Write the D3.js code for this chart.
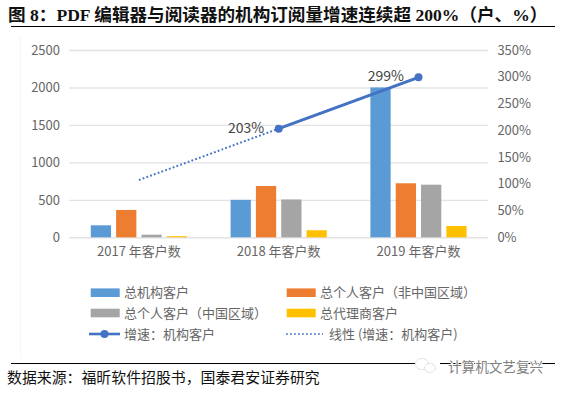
<!DOCTYPE html>
<html><head><meta charset="utf-8">
<script src="https://cdn.jsdelivr.net/npm/d3@7/dist/d3.min.js"></script>
<style>html,body{margin:0;padding:0;background:#fff}svg{display:block}</style>
</head><body><svg id="c" width="561" height="393"></svg>
<script>
const categories = ["2017 年客户数","2018 年客户数","2019 年客户数"];
const seriesNames = ["总机构客户","总个人客户（非中国区域）","总个人客户（中国区域）","总代理商客户"];
const institutional = [160,500,2000];
const personalIntl = [365,685,721];
const personalCN = [35,505,702];
const agents = [15,94,151];
const growth = [null,203,299];
const trend = [107,203,299];
const leftTicks = [0,500,1000,1500,2000,2500];
const rightTicks = [0,50,100,150,200,250,300,350];
const colors = ["#5b9bd5","#ed7d31","#a5a5a5","#ffc000"];
const lineColor = "#4472c4";
const SANS = "'Noto Sans CJK SC','Noto Sans',sans-serif";
const SERIF = "'Liberation Serif','Noto Sans CJK SC',serif";

const svg = d3.select("#c");
const x0 = d3.scaleBand().domain(categories).range([69,488.4]).padding(0);
const x1 = d3.scaleBand().domain(seriesNames).range([-48.1,48.1]).paddingInner(0.2).paddingOuter(0);
const yL = d3.scaleLinear().domain([0,2500]).range([237.3,50]);
const yR = d3.scaleLinear().domain([0,350]).range([237.3,50]);
const cx = c => x0(c)+x0.bandwidth()/2;

// title
svg.append("text").attr("x",8).attr("y",21).attr("font-family",SERIF).attr("font-weight",700).attr("font-size",17.6).attr("fill","#111")
  .text("图 8：PDF 编辑器与阅读器的机构订阅量增速连续超 200%（户、%）");
svg.append("line").attr("x1",11).attr("x2",555).attr("y1",26.5).attr("y2",26.5).attr("stroke","#000").attr("stroke-width",1);

// faint chart frame edge
svg.append("line").attr("x1",20.5).attr("x2",20.5).attr("y1",35).attr("y2",358).attr("stroke","#f6f6f6").attr("stroke-width",1);

// grid + left axis
const gL = svg.append("g").attr("transform","translate(69,0)")
  .call(d3.axisLeft(yL).tickValues(leftTicks).tickSize(-419.4).tickPadding(9).tickFormat(d3.format("d")));
gL.select(".domain").remove();
gL.selectAll(".tick line").attr("stroke","#e3e3e3").attr("stroke-width",1.4);
gL.selectAll("text").attr("font-family",SANS).attr("font-size",13).attr("fill","#666");

// right axis
const gR = svg.append("g").attr("transform","translate(488.4,0)")
  .call(d3.axisRight(yR).tickValues(rightTicks).tickSize(0).tickPadding(9).tickFormat(d=>d+"%"));
gR.select(".domain").remove();
gR.selectAll("text").attr("font-family",SANS).attr("font-size",13).attr("fill","#666");

// category axis
const gB = svg.append("g").attr("transform","translate(0,237.3)")
  .call(d3.axisBottom(x0).tickSize(0).tickPadding(9));
gB.select(".domain").remove();
gB.selectAll("text").attr("font-family",SANS).attr("font-size",13).attr("fill","#666");

// bars
[institutional,personalIntl,personalCN,agents].forEach((vals,i)=>{
  svg.append("g").selectAll("rect").data(vals).join("rect")
    .attr("x",(d,j)=>cx(categories[j])+x1(seriesNames[i]))
    .attr("width",x1.bandwidth())
    .attr("y",d=>yL(d)).attr("height",d=>yL(0)-yL(d))
    .attr("fill",colors[i]);
});

// trend + growth
const pts = (vals)=>vals.map((v,j)=>({x:cx(categories[j]),v})).filter(d=>d.v!=null);
const ln = d3.line().x(d=>d.x).y(d=>yR(d.v));
svg.append("path").attr("d",ln(pts(trend))).attr("fill","none").attr("stroke",lineColor).attr("stroke-width",2).attr("stroke-dasharray","1.8 2.2");
svg.append("path").attr("d",ln(pts(growth))).attr("fill","none").attr("stroke",lineColor).attr("stroke-width",3);
svg.append("g").selectAll("circle").data(pts(growth)).join("circle").attr("cx",d=>d.x).attr("cy",d=>yR(d.v)).attr("r",4).attr("fill",lineColor);
svg.append("g").selectAll("text").data(pts(growth)).join("text")
  .attr("x",d=>d.x-14.5).attr("y",d=>yR(d.v)+4)
  .attr("text-anchor","end").attr("font-family",SANS).attr("font-size",14).attr("fill","#444")
  .text(d=>d.v+"%");

// legend
const legendText = svg.append("g").attr("font-family",SANS).attr("font-size",13).attr("fill","#666");
const rows = [292.7,313,334];
const lx = [90.7,286.7];
const tx = [124,320];
[[0,0],[1,0],[0,1],[1,1]].forEach(([c,r],i)=>{
  svg.append("rect").attr("x",lx[c]).attr("y",rows[r]-4.3).attr("width",29).attr("height",8.6).attr("fill",colors[i]);
  legendText.append("text").attr("x",tx[c]).attr("y",rows[r]+4.6).text(seriesNames[i]);
});
svg.append("line").attr("x1",89).attr("x2",120).attr("y1",rows[2]).attr("y2",rows[2]).attr("stroke",lineColor).attr("stroke-width",2.6);
svg.append("circle").attr("cx",104.5).attr("cy",rows[2]).attr("r",4).attr("fill",lineColor);
legendText.append("text").attr("x",124).attr("y",rows[2]+4.6).text("增速：机构客户");
svg.append("line").attr("x1",286).attr("x2",323).attr("y1",rows[2]).attr("y2",rows[2]).attr("stroke",lineColor).attr("stroke-width",1.6).attr("stroke-dasharray","1.8 2.2");
legendText.append("text").attr("x",329).attr("y",rows[2]+4.6).text("线性 (增速：机构客户)");

// footer
svg.append("line").attr("x1",11).attr("x2",415).attr("y1",363.5).attr("y2",363.5).attr("stroke","#000").attr("stroke-width",1);
svg.append("line").attr("x1",440).attr("x2",555).attr("y1",363.5).attr("y2",363.5).attr("stroke","#000").attr("stroke-width",1);
svg.append("text").attr("x",7).attr("y",383).attr("font-family",SERIF).attr("font-size",14.9).attr("fill","#111")
  .text("数据来源：福昕软件招股书，国泰君安证券研究");
// watermark
const wm = svg.append("g").attr("fill","#fff").attr("stroke","#c4c4c4").attr("stroke-width",0.8).attr("stroke-dasharray","1.5 1");
wm.append("ellipse").attr("cx",422).attr("cy",364).attr("rx",6.5).attr("ry",5.5);
wm.append("ellipse").attr("cx",430).attr("cy",368).attr("rx",5.5).attr("ry",4.5);
svg.append("text").attr("x",448).attr("y",372).attr("font-family",SANS).attr("font-size",13.6).attr("fill","#808080").attr("stroke","#fff").attr("stroke-width",2).attr("paint-order","stroke")
  .text("计算机文艺复兴");
</script></body></html>
